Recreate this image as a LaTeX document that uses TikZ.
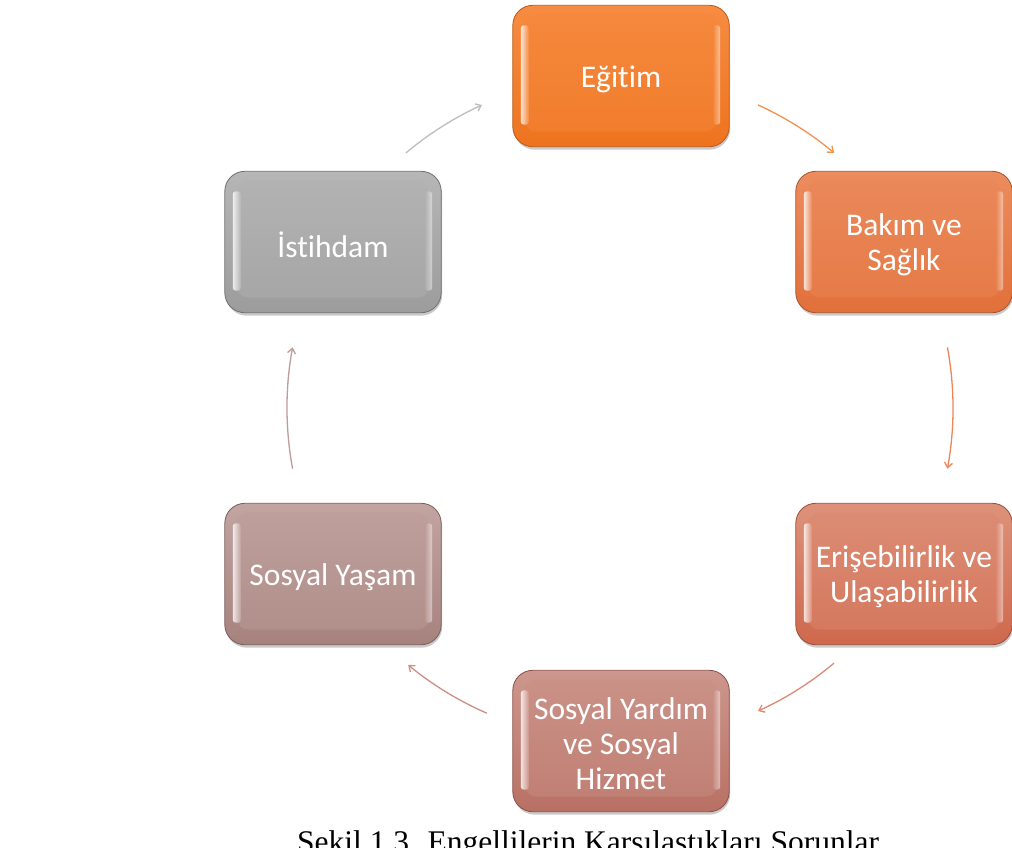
\documentclass[tikz,border=0pt]{standalone}
\usepackage{fontspec}
\setmainfont{Carlito}[Ligatures=NoCommon]
\newfontfamily\boxfont{Carlito}[Ligatures=NoCommon]
\newfontfamily\capfont{Liberation Serif}
\usetikzlibrary{arrows.meta,backgrounds,calc}
\definecolor{egL}{HTML}{F68C42}\definecolor{egD}{HTML}{EE731E}\definecolor{egB}{HTML}{B85A18}
\definecolor{bkL}{HTML}{EC8C5E}\definecolor{bkD}{HTML}{E1703A}\definecolor{bkB}{HTML}{A85430}
\definecolor{isL}{HTML}{B6B6B6}\definecolor{isD}{HTML}{9C9C9C}\definecolor{isB}{HTML}{707070}
\definecolor{erL}{HTML}{DE927B}\definecolor{erD}{HTML}{CE684C}\definecolor{erB}{HTML}{9A4E3A}
\definecolor{syL}{HTML}{CD978D}\definecolor{syD}{HTML}{B97064}\definecolor{syB}{HTML}{8A5048}
\definecolor{ysL}{HTML}{C2A4A1}\definecolor{ysD}{HTML}{A6827D}\definecolor{ysB}{HTML}{7A5E5A}
\definecolor{a1}{HTML}{F4914F}\definecolor{a2}{HTML}{EA8658}\definecolor{a3}{HTML}{DC8A72}
\definecolor{a4}{HTML}{CF8E82}\definecolor{a5}{HTML}{BE9C98}\definecolor{a6}{HTML}{BDBDBD}
\tikzset{
  boxnode/.style={minimum width=216pt, minimum height=141pt, inner sep=0pt, text=white,
    font=\boxfont\fontsize{31.5}{35}\selectfont, align=center},
  arr/.style={line width=1.3pt, -{Straight Barb[length=5pt,width=8pt]}},
}
% the box is drawn 3pt above the node centre so the text sits slightly low, as in the source
\newcommand\boxdeco[4]{%
  \begin{scope}[on background layer]
    \fill[black!60,opacity=.35,rounded corners=21pt] ([shift={(1,0)}]#1.north west) rectangle ([shift={(1,0)}]#1.south east);
    \shadedraw[top color=#2,bottom color=#3,draw=#4,line width=.8pt,rounded corners=20pt] ([yshift=3]#1.north west) rectangle ([yshift=3]#1.south east);
    \shade[top color=#2!85!#3,bottom color=#2!40!#3,rounded corners=12pt] ([shift={(12,-6)}]#1.north west) rectangle ([shift={(-12,18)}]#1.south east);
    \shade[left color=white,right color=#2,opacity=.8,rounded corners=3pt] ([shift={(8,-17)}]#1.north west) rectangle ([shift={(16,25)}]#1.south west);
    \shade[left color=#2,right color=white,opacity=.5,rounded corners=3pt] ([shift={(-16,-17)}]#1.north east) rectangle ([shift={(-9,25)}]#1.south east);
  \end{scope}}
\begin{document}
\begin{tikzpicture}[x=1pt,y=1pt]
\useasboundingbox (0,0) rectangle (1012,-847);
\begin{scope}[on background layer]
\fill[white] (0,0) rectangle (1012,-847);
\end{scope}
\clip (0,0) rectangle (1012,-847);
% nodes
\node[boxnode] (egitim) at (621,-79) {Eğitim};
\node[boxnode] (bakim) at (904,-245) {Bakım ve\\Sağlık};
\node[boxnode] (erisim) at (904,-577) {Erişebilirlik ve\\Ulaşabilirlik};
\node[boxnode] (yardim) at (621,-744) {Sosyal Yardım\\ve Sosyal\\Hizmet};
\node[boxnode] (yasam) at (333,-577) {Sosyal Yaşam};
\node[boxnode] (istihdam) at (333,-245) {İstihdam};
\boxdeco{egitim}{egL}{egD}{egB}
\boxdeco{bakim}{bkL}{bkD}{bkB}
\boxdeco{erisim}{erL}{erD}{erB}
\boxdeco{yardim}{syL}{syD}{syB}
\boxdeco{yasam}{ysL}{ysD}{ysB}
\boxdeco{istihdam}{isL}{isD}{isB}
% connectors along the cycle
\coordinate (c) at (620,-408);
\coordinate (s1) at ($(c)+(65.5:333)$);
\coordinate (s2) at ($(c)+(10.5:333)$);
\coordinate (s3) at ($(c)+(-50:333)$);
\coordinate (s4) at ($(c)+(-113.6:333)$);
\coordinate (s5) at ($(c)+(190.5:333)$);
\coordinate (s6) at ($(c)+(130:333)$);
\draw[arr,a1] (s1) arc[start angle=65.5,end angle=50,radius=333];
\draw[arr,a2] (s2) arc[start angle=10.5,end angle=-10.5,radius=333];
\draw[arr,a3] (s3) arc[start angle=-50,end angle=-65.5,radius=333];
\draw[arr,a4] (s4) arc[start angle=-113.6,end angle=-129.5,radius=333];
\draw[arr,a5] (s5) arc[start angle=190.5,end angle=169.5,radius=333];
\draw[arr,a6] (s6) arc[start angle=130,end angle=114.5,radius=333];
% caption (cut by the lower edge, as in the source)
\node[anchor=base west, inner sep=0pt, font=\capfont\fontsize{31.5}{36}\selectfont] (cap) at (297,-852) {Şekil 1.3. Engellilerin Karşılaştıkları Sorunlar};
\end{tikzpicture}
\end{document}
